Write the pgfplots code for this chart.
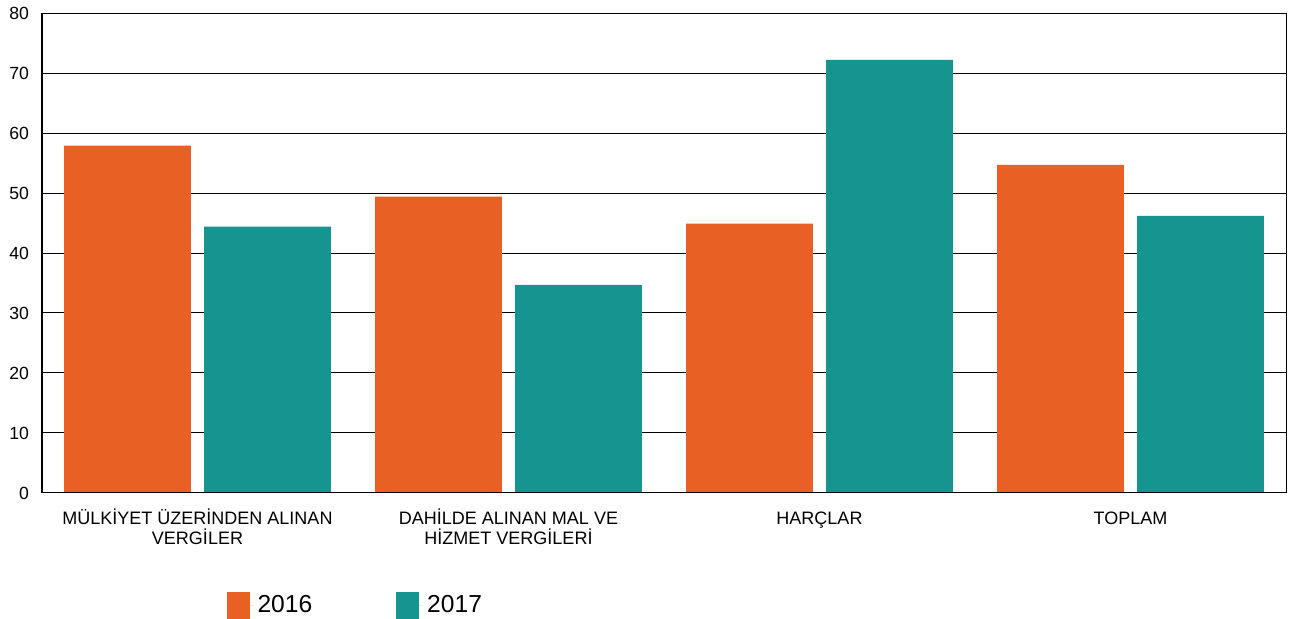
\documentclass[border=0pt]{standalone}
\usepackage{pgfplots}
\pgfplotsset{compat=1.18}
\usepackage{fontspec}
\setmainfont{Liberation Sans}

\definecolor{c2016}{HTML}{E86023}
\definecolor{c2017}{HTML}{169490}
\newcommand{\st}{\rule{0pt}{8pt}}

\begin{document}
\begin{tikzpicture}
\path[use as bounding box] (-21pt,-63pt) rectangle (629pt,246.5pt);
\begin{axis}[
    at={(0,0)}, anchor=south west,
    scale only axis,
    width=622pt, height=240pt,
    xmin=-0.5, xmax=3.5,
    ymin=0, ymax=80,
    ytick distance=10,
    xtick={0,1,2,3},
    xticklabels={{\st MÜLKİYET ÜZERİNDEN ALINAN\\VERGİLER},
                 {\st DAHİLDE ALINAN MAL VE\\HİZMET VERGİLERİ},
                 {\st HARÇLAR},{\st TOPLAM}},
    major tick length=0pt,
    ymajorgrids,
    grid style={black, line width=0.5pt},
    axis line style={black, line width=0.5pt},
    /pgf/number format/assume math mode=true,
    yticklabel style={font=\fontsize{8.8}{10}\selectfont, xshift=-3pt},
    xticklabel style={font=\fontsize{9}{10}\selectfont, align=center, yshift=-4pt},
    bar width=0.408,
    legend style={draw=none, at={(0.148,-0.235)}, anchor=west,
        legend columns=2, inner sep=0pt,
        font=\fontsize{12.3}{14}\selectfont,
        /tikz/every even column/.append style={column sep=40pt}},
    legend image code/.code={\fill[#1] (0pt,-7pt) rectangle (11.5pt,7pt);
        \path (0pt,0pt) -- (13.5pt,0pt);},
]
\addplot[ybar, bar shift=-0.225, fill=c2016, draw=none] coordinates {
  (0,57.9) (1,49.4) (2,44.9) (3,54.7)
};
\addlegendentry{2016}
\addplot[ybar, bar shift=0.225, fill=c2017, draw=none] coordinates {
  (0,44.4) (1,34.7) (2,72.2) (3,46.2)
};
\addlegendentry{2017}
\draw[black, line width=1pt] (rel axis cs:0,1) -- (rel axis cs:0,0) -- (rel axis cs:1,0);
\end{axis}
\end{tikzpicture}
\end{document}
